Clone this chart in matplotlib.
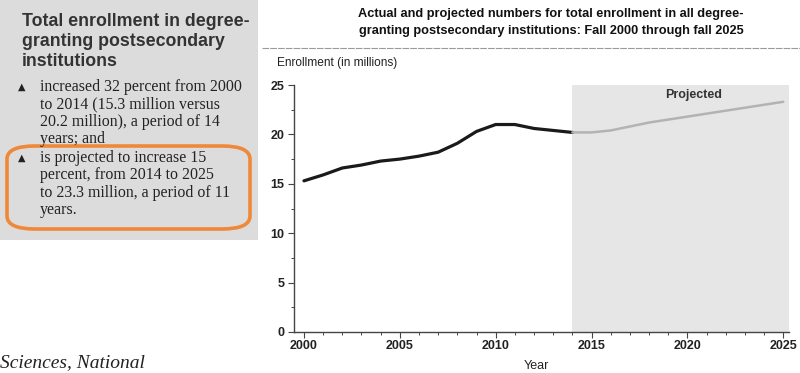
import matplotlib
matplotlib.use("Agg")
import matplotlib.pyplot as plt
from matplotlib.patches import FancyBboxPatch, Rectangle
from matplotlib.lines import Line2D
from matplotlib.ticker import MultipleLocator

# Enrollment in millions, actual (fall 2000-2014) and projected (fall 2014-2025)
actual_years = [2000, 2001, 2002, 2003, 2004, 2005, 2006, 2007, 2008, 2009,
                2010, 2011, 2012, 2013, 2014]
actual_values = [15.3, 15.9, 16.6, 16.9, 17.3, 17.5, 17.8, 18.2, 19.1, 20.3,
                 21.0, 21.0, 20.6, 20.4, 20.2]
projected_years = [2014, 2015, 2016, 2017, 2018, 2019, 2020, 2021, 2022, 2023,
                   2024, 2025]
projected_values = [20.2, 20.2, 20.4, 20.8, 21.2, 21.5, 21.8, 22.1, 22.4, 22.7,
                    23.0, 23.3]
x_ticks = [2000, 2005, 2010, 2015, 2020, 2025]
y_ticks = [0, 5, 10, 15, 20, 25]

W, H = 800, 373
fig = plt.figure(figsize=(W / 100, H / 100), dpi=100)
fig.patch.set_facecolor("white")


def fx(px):
    return px / W


def fy(py):
    return 1 - py / H


sans = "Liberation Sans"
serif = "Liberation Serif"

# ---- sidebar -------------------------------------------------------------
fig.patches.append(Rectangle((0, fy(240)), fx(258), 240 / H,
                             transform=fig.transFigure, facecolor="#dcdcdc",
                             edgecolor="none", zorder=0))
fig.text(fx(22), fy(13), "Total enrollment in degree-\ngranting postsecondary\ninstitutions",
         family=sans, fontweight="bold", fontsize=12.8, color="#333333",
         va="top", ha="left", linespacing=1.22)

bullets = [
    (79, "increased 32 percent from 2000\nto 2014 (15.3 million versus\n20.2 million), a period of 14\nyears; and"),
    (150, "is projected to increase 15\npercent, from 2014 to 2025\nto 23.3 million, a period of 11\nyears."),
]
for top, txt in bullets:
    fig.text(fx(18), fy(top + 3), "▲", family="DejaVu Sans", fontsize=7,
             color="#222222", va="top", ha="left")
    fig.text(fx(40), fy(top), txt, family=serif, fontsize=11.4, color="#222222",
             va="top", ha="left", linespacing=1.12)

fig.patches.append(FancyBboxPatch((fx(7), fy(229)), fx(243), (229 - 146) / H,
                                  boxstyle="round,pad=0,rounding_size=0.035",
                                  transform=fig.transFigure, facecolor="none",
                                  edgecolor="#f0883a", linewidth=2.6, zorder=2))

fig.text(fx(0), fy(367), "Sciences, National", family=serif, style="italic",
         fontsize=14, color="#222222", va="baseline", ha="left")

# ---- chart heading -------------------------------------------------------
fig.text(fx(551), fy(8), "Actual and projected numbers for total enrollment in all degree-\n"
         "granting postsecondary institutions: Fall 2000 through fall 2025",
         family=sans, fontweight="bold", fontsize=9.2, color="#111111",
         va="top", ha="center", linespacing=1.6)
fig.lines.append(Line2D([fx(262), fx(800)], [fy(48), fy(48)],
                        transform=fig.transFigure, color="#9a9a9a",
                        linewidth=0.8, linestyle=(0, (6, 1))))
fig.text(fx(277), fy(63), "Enrollment (in millions)", family=sans, fontsize=8.6,
         color="#222222", va="center", ha="left")

# ---- chart ---------------------------------------------------------------
ax = fig.add_axes([fx(294), fy(332), fx(789 - 294), (332 - 85) / H])
ax.set_xlim(1999.48, 2025.3)
ax.set_ylim(0, 25)

ax.axvspan(2014, 2025.3, color="#e6e6e6", zorder=0, linewidth=0)
ax.plot(actual_years, actual_values, color="#1a1a1a", linewidth=2.3,
        solid_capstyle="round", zorder=3)
ax.plot(projected_years, projected_values, color="#b3b3b3", linewidth=1.8,
        solid_capstyle="round", zorder=3)
ax.text(2020.3, 23.4, "Projected", family=sans, fontweight="bold", fontsize=9,
        color="#333333", ha="center", va="bottom")

for side in ("top", "right"):
    ax.spines[side].set_visible(False)
for side in ("left", "bottom"):
    ax.spines[side].set_color("#444444")
    ax.spines[side].set_linewidth(1.0)

ax.set_xticks(x_ticks)
ax.set_xticklabels([str(v) for v in x_ticks])
ax.xaxis.set_minor_locator(MultipleLocator(1))
ax.set_yticks(y_ticks)
ax.set_yticklabels([str(v) for v in y_ticks])
ax.yaxis.set_minor_locator(MultipleLocator(2.5))
ax.tick_params(axis="both", which="major", direction="out", length=4,
               width=0.8, color="#444444", labelsize=9, labelcolor="#222222")
ax.tick_params(axis="both", which="minor", direction="out", length=2.5,
               width=0.7, color="#444444")
ax.tick_params(axis="x", pad=2)
ax.tick_params(axis="y", pad=3)
for lbl in ax.get_xticklabels() + ax.get_yticklabels():
    lbl.set_family(sans)
    lbl.set_fontweight("bold")

fig.text(fx(536), fy(366), "Year", family=sans, fontsize=9, color="#222222",
         va="center", ha="center")

fig.savefig("out.png", dpi=100, facecolor=fig.get_facecolor())
